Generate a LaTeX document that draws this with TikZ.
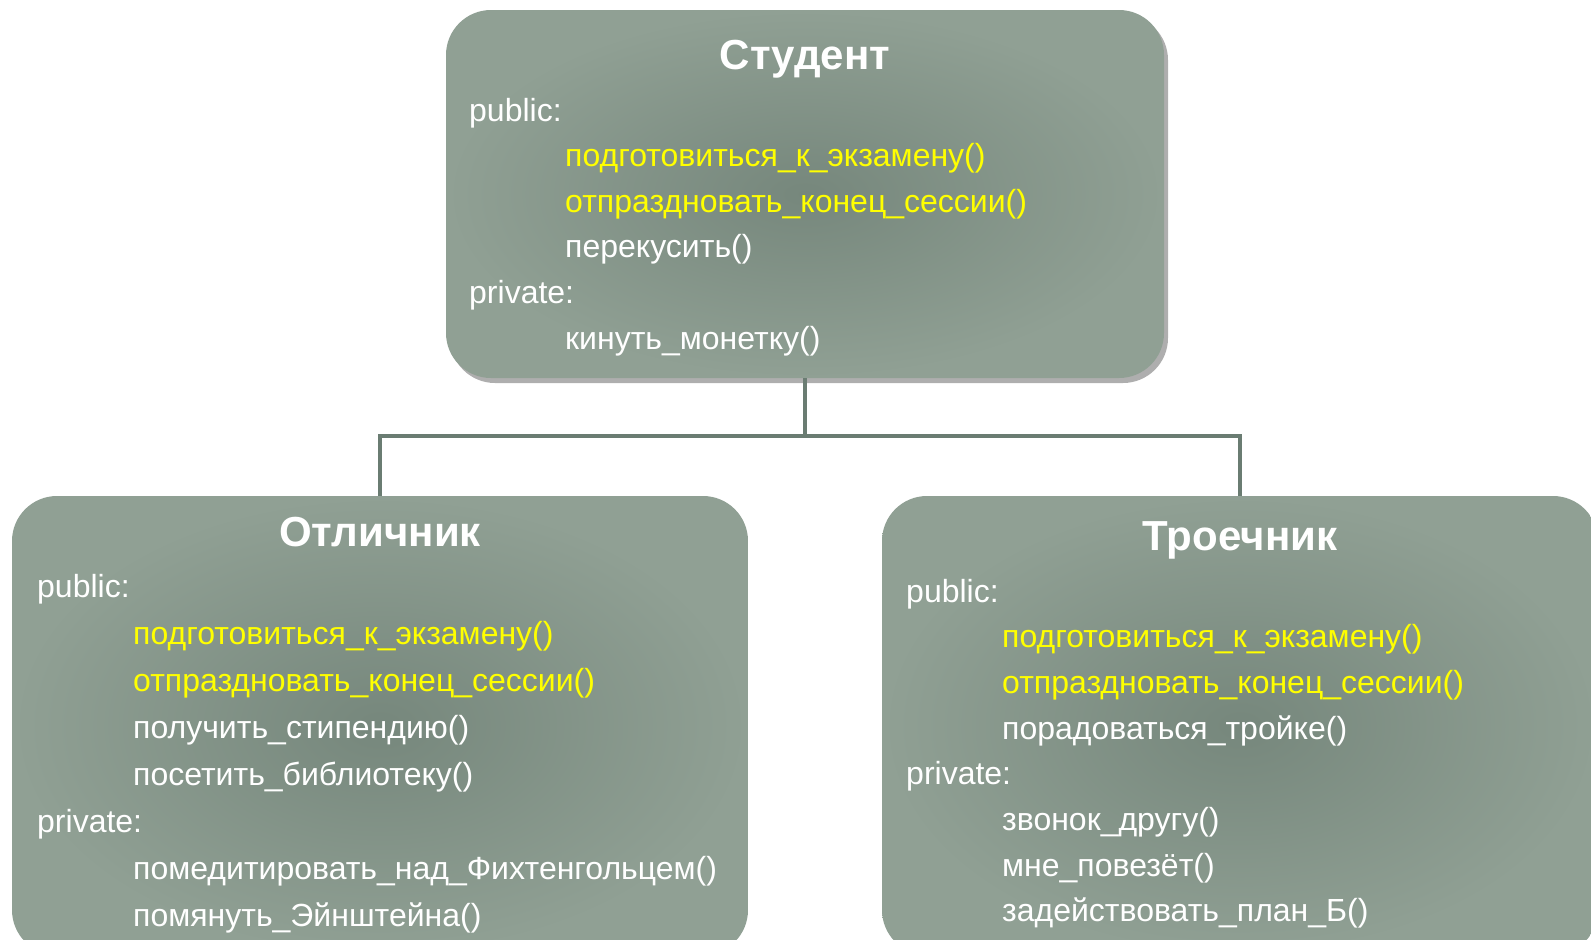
\documentclass[tikz,border=0pt]{standalone}
\usepackage{fontspec}
\setmainfont{Liberation Sans}
\usetikzlibrary{shadows}
\definecolor{boxmid}{HTML}{76877C}
\definecolor{boxedge}{HTML}{90A094}
\definecolor{linkgray}{HTML}{6A7C72}
\definecolor{hlyellow}{HTML}{FFFF00}
\newcommand{\hl}{\color{hlyellow}}
\tikzset{
  klass/.style={rounded corners=45pt, inner color=boxmid, outer color=boxedge, inner sep=0pt},
  titel/.style={font=\bfseries\fontsize{42}{46}\selectfont, text=white, anchor=base, inner sep=0pt},
  zeile/.style={font=\fontsize{32}{36}\selectfont, text=white, anchor=base west, inner sep=0pt},
  link/.style={draw=linkgray, line width=4.5pt}
}
\begin{document}
\begin{tikzpicture}[x=1pt,y=-1pt]
  \path[use as bounding box, clip] (0,0) rectangle (1591,940);
  \fill[white] (0,0) rectangle (1591,940);
  % Klassen
  \node[klass, minimum width=718pt, minimum height=368pt,
        drop shadow={shadow xshift=4pt, shadow yshift=-5pt, opacity=.45, fill=black!70}] (student) at (805,194) {};
  \node[klass, minimum width=736pt, minimum height=459pt] (otlichnik) at (380,725.5) {};
  \node[klass, minimum width=716pt, minimum height=459pt] (troechnik) at (1240,725.5) {};
  % Vererbung
  \draw[link] (student.south) -- ++(0,58) coordinate (split);
  \draw[link] (split) -| (otlichnik.north);
  \draw[link] (split) -| (troechnik.north);
  % Student
  \node[titel] (student-t) at (805,69) {Студент};
  \foreach \ind/\txt [count=\i] in {0/public:, 1/{\hl подготовиться\_к\_экзамену()}, 1/{\hl отпраздновать\_конец\_сессии()},
      1/перекусить(), 0/private:, 1/кинуть\_монетку()}
    \node[zeile] (student-\i) at ({469+96*\ind},{121+45.6*(\i-1)}) {\txt};
  % Otlichnik
  \node[titel] (otlichnik-t) at (380,546) {Отличник};
  \foreach \ind/\txt [count=\i] in {0/public:, 1/{\hl подготовиться\_к\_экзамену()}, 1/{\hl отпраздновать\_конец\_сессии()},
      1/получить\_стипендию(), 1/посетить\_библиотеку(), 0/private:, 1/помедитировать\_над\_Фихтенгольцем(), 1/помянуть\_Эйнштейна()}
    \node[zeile] (otlichnik-\i) at ({37+96*\ind},{597+47*(\i-1)}) {\txt};
  % Troechnik
  \node[titel] (troechnik-t) at (1240,550) {Троечник};
  \foreach \ind/\txt [count=\i] in {0/public:, 1/{\hl подготовиться\_к\_экзамену()}, 1/{\hl отпраздновать\_конец\_сессии()},
      1/порадоваться\_тройке(), 0/private:, 1/звонок\_другу(), 1/мне\_повезёт(), 1/задействовать\_план\_Б()}
    \node[zeile] (troechnik-\i) at ({906+96*\ind},{602+45.7*(\i-1)}) {\txt};
\end{tikzpicture}
\end{document}
